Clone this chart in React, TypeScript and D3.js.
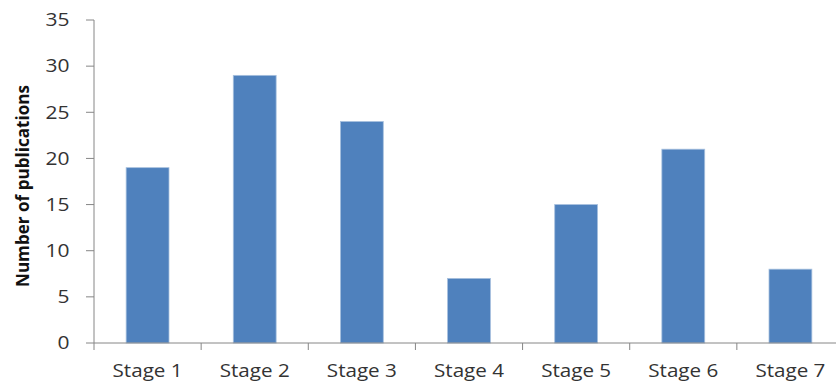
import React from 'react';
import * as d3 from 'd3';

// chart data
const stages = ['Stage 1', 'Stage 2', 'Stage 3', 'Stage 4', 'Stage 5', 'Stage 6', 'Stage 7'];
const publications = [19, 29, 24, 7, 15, 21, 8];
const yTicks = [0, 5, 10, 15, 20, 25, 30, 35];

const width = 836;
const height = 381;
const margin = { top: 20, right: -8, bottom: 38, left: 94 };

export default function App() {
  const x = d3.scaleBand()
    .domain(stages)
    .range([margin.left, width - margin.right])
    .paddingInner(0.6)
    .paddingOuter(0.3);

  const y = d3.scaleLinear()
    .domain([0, 35])
    .range([height - margin.bottom, margin.top]);

  const y0 = y(0);
  const axisColor = '#868686';
  const font = "'Open Sans', 'Liberation Sans', sans-serif";

  // category boundaries for the x tick marks
  const step = x.step();
  const bounds = d3.range(stages.length + 1).map((i) => margin.left + i * step);

  return (
    <svg
      width={width}
      height={height}
      style={{ position: 'absolute', left: 0, top: 0, background: '#fff' }}
    >
      {/* bars */}
      {stages.map((s, i) => (
        <rect
          key={s}
          x={x(s)}
          y={y(publications[i])}
          width={x.bandwidth()}
          height={y0 - y(publications[i])}
          fill="#4f81bd"
          stroke="#a7c0de"
          strokeWidth={0.8}
        />
      ))}

      {/* y axis */}
      <line x1={margin.left} x2={margin.left} y1={y(35)} y2={y0} stroke={axisColor} />
      {yTicks.map((t) => (
        <g key={t}>
          <line x1={margin.left - 8} x2={margin.left} y1={y(t)} y2={y(t)} stroke={axisColor} />
          <text
            x={69.5}
            y={y(t)}
            dy="0.36em"
            textAnchor="end"
            fontFamily={font}
            fontSize={17.5}
            textLength={String(t).length * 12}
            lengthAdjust="spacingAndGlyphs"
            fill="#333"
          >
            {t}
          </text>
        </g>
      ))}

      {/* x axis */}
      <line x1={margin.left} x2={width} y1={y0} y2={y0} stroke={axisColor} />
      {bounds.map((b, i) => (
        <line key={i} x1={b} x2={b} y1={y0} y2={y0 + 7} stroke={axisColor} />
      ))}
      {stages.map((s) => (
        <text
          key={s}
          x={(x(s) ?? 0) + x.bandwidth() / 2}
          y={376.5}
          textAnchor="middle"
          fontFamily={font}
          fontSize={19}
          textLength={70}
          lengthAdjust="spacingAndGlyphs"
          fill="#333"
        >
          {s}
        </text>
      ))}

      {/* y axis title */}
      <text
        transform={`translate(29, 186) rotate(-90)`}
        textAnchor="middle"
        fontFamily={font}
        fontWeight="bold"
        fontSize={18}
        textLength={202}
        lengthAdjust="spacingAndGlyphs"
        fill="#111"
      >
        Number of publications
      </text>
    </svg>
  );
}
